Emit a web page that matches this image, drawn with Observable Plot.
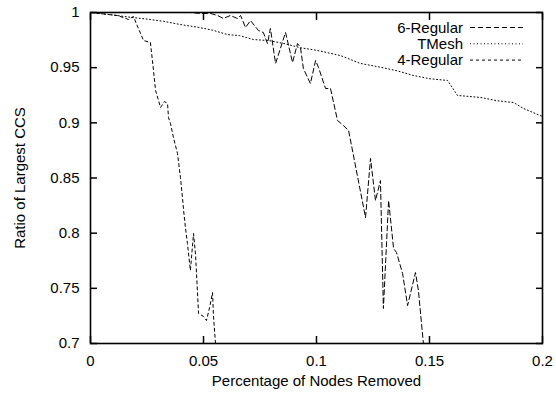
<!DOCTYPE html>
<html><head><meta charset="utf-8">
<script src="https://cdn.jsdelivr.net/npm/d3@7"></script>
<script src="https://cdn.jsdelivr.net/npm/@observablehq/plot@0.6"></script>
<style>
html,body{margin:0;padding:0;background:#fff;}
#chart svg{display:block;}
</style></head><body><div id="chart"></div>
<script>
// ---- data ----
const seriesNames = ["6-Regular", "TMesh", "4-Regular"];
const xTicks = [0, 0.05, 0.1, 0.15, 0.2];
const yTicks = [0.7, 0.75, 0.8, 0.85, 0.9, 0.95, 1];
const xLabel = "Percentage of Nodes Removed";
const yLabel = "Ratio of Largest CCS";

const regular6X = [0, 0.0442, 0.0487, 0.0531, 0.0562, 0.0588, 0.0619, 0.065, 0.0664, 0.0686, 0.0708, 0.0743, 0.0765, 0.0783, 0.0796, 0.0819, 0.0863, 0.0894, 0.0916, 0.0929, 0.0942, 0.0973, 0.0996, 0.1009, 0.104, 0.1062, 0.1093, 0.1119, 0.1142, 0.1217, 0.1239, 0.1261, 0.1283, 0.1296, 0.1319, 0.1341, 0.1354, 0.1381, 0.1403, 0.1438, 0.1451, 0.1473];
const regular6Y = [1, 1, 0.9991, 0.9991, 0.9973, 0.9946, 0.9973, 0.9946, 0.9973, 0.9864, 0.9927, 0.9837, 0.9819, 0.9719, 0.9855, 0.9538, 0.9819, 0.9547, 0.9719, 0.9683, 0.9492, 0.9356, 0.9565, 0.9501, 0.9311, 0.9311, 0.9021, 0.8976, 0.893, 0.8142, 0.8677, 0.8296, 0.8477, 0.7317, 0.8296, 0.7861, 0.7825, 0.7634, 0.7344, 0.7643, 0.748, 0.7];

const tmeshX = [0, 0.0088, 0.0177, 0.025, 0.0323, 0.04, 0.0473, 0.054, 0.0606, 0.066, 0.0721, 0.079, 0.0854, 0.093, 0.1004, 0.1062, 0.1106, 0.1195, 0.1283, 0.136, 0.1429, 0.15, 0.158, 0.1624, 0.1726, 0.18, 0.1872, 0.1916, 0.2];
const tmeshY = [1, 0.998, 0.9957, 0.994, 0.992, 0.989, 0.9867, 0.984, 0.98, 0.979, 0.9755, 0.9745, 0.972, 0.968, 0.9656, 0.963, 0.961, 0.9538, 0.9504, 0.947, 0.9429, 0.94, 0.9384, 0.9248, 0.923, 0.92, 0.9184, 0.913, 0.9057];

const regular4X = [0, 0.0119, 0.0168, 0.019, 0.0212, 0.0235, 0.0265, 0.0274, 0.0288, 0.031, 0.0327, 0.0341, 0.0345, 0.0354, 0.0367, 0.0385, 0.0398, 0.0407, 0.0412, 0.042, 0.0429, 0.0442, 0.0456, 0.0465, 0.0473, 0.0478, 0.05, 0.0513, 0.0527, 0.054, 0.0544, 0.0553];
const regular4Y = [1, 0.9973, 0.9937, 0.9964, 0.9855, 0.9746, 0.9728, 0.9565, 0.9293, 0.9139, 0.9193, 0.9175, 0.9048, 0.8994, 0.8867, 0.8722, 0.8504, 0.8323, 0.8205, 0.8051, 0.7906, 0.7662, 0.7997, 0.7798, 0.748, 0.7272, 0.7245, 0.7208, 0.7326, 0.7462, 0.7254, 0.7];

const dashes = ["5,3", "1,2.5", "3,3"];

// ---- build rows ----
const toRows = (xs, ys) => xs.map((x, i) => ({x, y: ys[i]}));
const rows = [toRows(regular6X, regular6Y), toRows(tmeshX, tmeshY), toRows(regular4X, regular4Y)];

const F = "'Liberation Sans', Arial, Helvetica, sans-serif";
const chart = Plot.plot({
  width: 556, height: 395,
  marginLeft: 90, marginRight: 14, marginTop: 12, marginBottom: 52,
  style: {fontFamily: F, fontSize: "15px", background: "#fff", color: "#000", overflow: "visible"},
  x: {domain: [0, 0.2]},
  y: {domain: [0.7, 1]},
  marks: [
    Plot.axisX(xTicks, {anchor: "bottom", tickSize: -7, tickPadding: 19, tickFormat: d => String(d), strokeWidth: 1.5, label: null}),
    Plot.axisX(xTicks, {anchor: "top", tickSize: -7, tickFormat: () => "", strokeWidth: 1.5, label: null}),
    Plot.axisY(yTicks, {anchor: "left", tickSize: -7, tickPadding: 18, tickFormat: d => String(d), strokeWidth: 1.5, label: null}),
    Plot.axisY(yTicks, {anchor: "right", tickSize: -7, tickFormat: () => "", strokeWidth: 1.5, label: null}),
    ...rows.map((r, i) => Plot.line(r, {x: "x", y: "y", stroke: "#000", strokeWidth: 1, strokeDasharray: dashes[i]})),
    Plot.frame({stroke: "#000", strokeWidth: 1.6}),
    Plot.text([xLabel], {frameAnchor: "bottom", dy: 38, lineAnchor: "middle", textAnchor: "middle", fontSize: 15}),
    Plot.text([yLabel], {frameAnchor: "left", dx: -70, rotate: -90, lineAnchor: "middle", textAnchor: "middle", fontSize: 15})
  ]
});
document.getElementById("chart").appendChild(chart);

// legend (inside, top right)
const svg = d3.select(chart);
const lg = svg.append("g").attr("font-family", F).attr("font-size", 15);
seriesNames.forEach((name, i) => {
  const yy = 27.5 + i * 16.3;
  lg.append("text").attr("x", 463).attr("y", yy).attr("dy", "0.35em").attr("text-anchor", "end").attr("fill", "#000").text(name);
  lg.append("line").attr("x1", 470).attr("x2", 523).attr("y1", yy).attr("y2", yy)
    .attr("stroke", "#000").attr("stroke-width", 1).attr("stroke-dasharray", dashes[i]);
});
</script>
</body></html>
